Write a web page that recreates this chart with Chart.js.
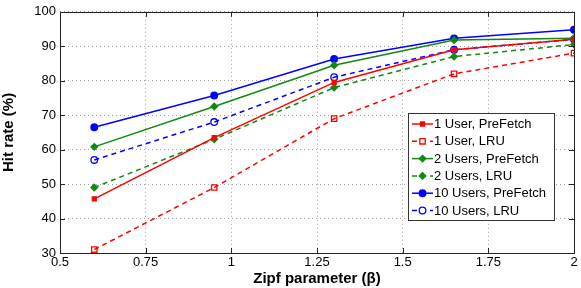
<!DOCTYPE html>
<html>
<head>
<meta charset="utf-8">
<script src="https://cdn.jsdelivr.net/npm/chart.js@4/dist/chart.umd.min.js"></script>
<style>
  html, body { margin: 0; padding: 0; background: #fff; }
  #wrap { width: 581px; height: 288px; }
</style>
</head>
<body>
<div id="wrap"><canvas id="canvas" width="581" height="288"></canvas></div>
<script>
// zipf parameter values on the x axis
var zipf = [0.6, 0.95, 1.3, 1.65, 2.0];

var oneUserPrefetch  = [45.7, 63.5, 79.5, 89.0, 92.0];
var oneUserLRU       = [31.0, 49.0, 69.0, 82.0, 88.0];
var twoUsersPrefetch = [60.8, 72.5, 84.5, 91.8, 92.3];
var twoUsersLRU      = [49.0, 63.0, 78.0, 87.0, 90.5];
var tenUsersPrefetch = [66.5, 75.7, 86.3, 92.3, 94.8];
var tenUsersLRU      = [57.0, 68.0, 81.0, 89.0, 92.0];

var seriesNames = ['1 User, PreFetch', '1 User, LRU', '2 Users, PreFetch', '2 Users, LRU', '10 Users, PreFetch', '10 Users, LRU'];

var FONT = 'Liberation Sans, Arial, sans-serif';

function pts(ys) {
  return ys.map(function (y, i) { return { x: zipf[i], y: y }; });
}

function ds(label, ys, color, dashed, style, radius, filled) {
  return {
    label: label,
    data: pts(ys),
    borderColor: color,
    backgroundColor: filled ? color : '#fff',
    borderWidth: 1.5,
    borderDash: dashed ? [5, 4] : [],
    pointStyle: style,
    pointRadius: radius,
    pointBorderWidth: 1.3,
    pointBackgroundColor: filled ? color : 'rgba(255,255,255,0)',
    pointBorderColor: color,
    tension: 0
  };
}

var red = '#ff0000', green = '#108a10', blue = '#0000ff';

// frame, inward ticks and the legend box
var matlabLook = {
  id: 'matlabLook',
  afterDraw: function (chart) {
    var ctx = chart.ctx, a = chart.chartArea;
    var xs = chart.scales.x, ys = chart.scales.y;
    ctx.save();
    ctx.strokeStyle = '#222';
    ctx.lineWidth = 1;
    ctx.setLineDash([]);
    ctx.strokeRect(Math.round(a.left) + 0.5, Math.round(a.top) + 0.5, Math.round(a.right - a.left), Math.round(a.bottom - a.top));
    xs.ticks.forEach(function (t) {
      var px = Math.round(xs.getPixelForValue(t.value)) + 0.5;
      ctx.beginPath();
      ctx.moveTo(px, a.bottom); ctx.lineTo(px, a.bottom - 5);
      ctx.moveTo(px, a.top); ctx.lineTo(px, a.top + 5);
      ctx.stroke();
    });
    ys.ticks.forEach(function (t) {
      var py = Math.round(ys.getPixelForValue(t.value)) + 0.5;
      ctx.beginPath();
      ctx.moveTo(a.left, py); ctx.lineTo(a.left + 5, py);
      ctx.moveTo(a.right, py); ctx.lineTo(a.right - 5, py);
      ctx.stroke();
    });

    // legend
    var bx = 408.5, by = 113.5, bw = 146, bh = 107;
    ctx.fillStyle = '#fff';
    ctx.fillRect(bx, by, bw, bh);
    ctx.strokeStyle = '#333';
    ctx.strokeRect(bx, by, bw, bh);
    ctx.font = '13px ' + FONT;
    ctx.textBaseline = 'middle';
    chart.data.datasets.forEach(function (d, i) {
      var y = 124 + i * 17.3;
      ctx.strokeStyle = d.borderColor;
      ctx.lineWidth = 1.5;
      ctx.setLineDash(d.borderDash);
      ctx.beginPath();
      ctx.moveTo(412, y); ctx.lineTo(433, y);
      ctx.stroke();
      ctx.setLineDash([]);
      ctx.fillStyle = d.pointBackgroundColor === 'rgba(255,255,255,0)' ? '#fff' : d.pointBackgroundColor;
      ctx.strokeStyle = d.pointBorderColor;
      ctx.lineWidth = d.pointBorderWidth;
      Chart.helpers.drawPoint(ctx, {
        pointStyle: d.pointStyle, radius: d.pointRadius, borderWidth: d.pointBorderWidth
      }, 422.5, y);
      ctx.fillStyle = '#000';
      ctx.fillText(d.label, 434, y + 0.5);
    });
    ctx.restore();
  }
};

var gridOpts = {
  color: '#a0a0a0',
  lineWidth: 1,
  drawTicks: false,
  borderDash: [1, 3]
};

new Chart('canvas', {
  type: 'line',
  data: {
    datasets: [
      ds(seriesNames[0], oneUserPrefetch, red, false, 'rect', 2.8, true),
      ds(seriesNames[1], oneUserLRU, red, true, 'rect', 3.8, false),
      ds(seriesNames[2], twoUsersPrefetch, green, false, 'rectRot', 3.3, true),
      ds(seriesNames[3], twoUsersLRU, green, true, 'rectRot', 3.3, true),
      ds(seriesNames[4], tenUsersPrefetch, blue, false, 'circle', 3.3, true),
      ds(seriesNames[5], tenUsersLRU, blue, true, 'circle', 3.3, false)
    ]
  },
  options: {
    responsive: false,
    animation: false,
    layout: { padding: { top: 5, right: 7, left: 0, bottom: 0 } },
    plugins: {
      legend: { display: false },
      tooltip: { enabled: false }
    },
    scales: {
      x: {
        type: 'linear',
        min: 0.5,
        max: 2,
        ticks: {
          stepSize: 0.25,
          color: '#000',
          font: { family: FONT, size: 13 },
          padding: 2,
          callback: function (v) { return String(v); }
        },
        grid: gridOpts,
        border: { display: true, width: 0, dash: [1, 3] },
        title: {
          display: true,
          text: 'Zipf parameter (\u03b2)',
          color: '#000',
          font: { family: FONT, size: 15, weight: 'bold' },
          padding: { top: 0, bottom: 0 }
        },
        afterFit: function (s) { s.height = 35; }
      },
      y: {
        min: 30,
        max: 100,
        ticks: {
          stepSize: 10,
          color: '#000',
          font: { family: FONT, size: 13 },
          padding: 4
        },
        grid: gridOpts,
        border: { display: true, width: 0, dash: [1, 3] },
        title: {
          display: true,
          text: 'Hit rate (%)',
          color: '#000',
          font: { family: FONT, size: 15, weight: 'bold' },
          padding: { top: 0, bottom: 4 }
        },
        afterFit: function (s) { s.width = 60; }
      }
    }
  },
  plugins: [matlabLook]
});
</script>
</body>
</html>
